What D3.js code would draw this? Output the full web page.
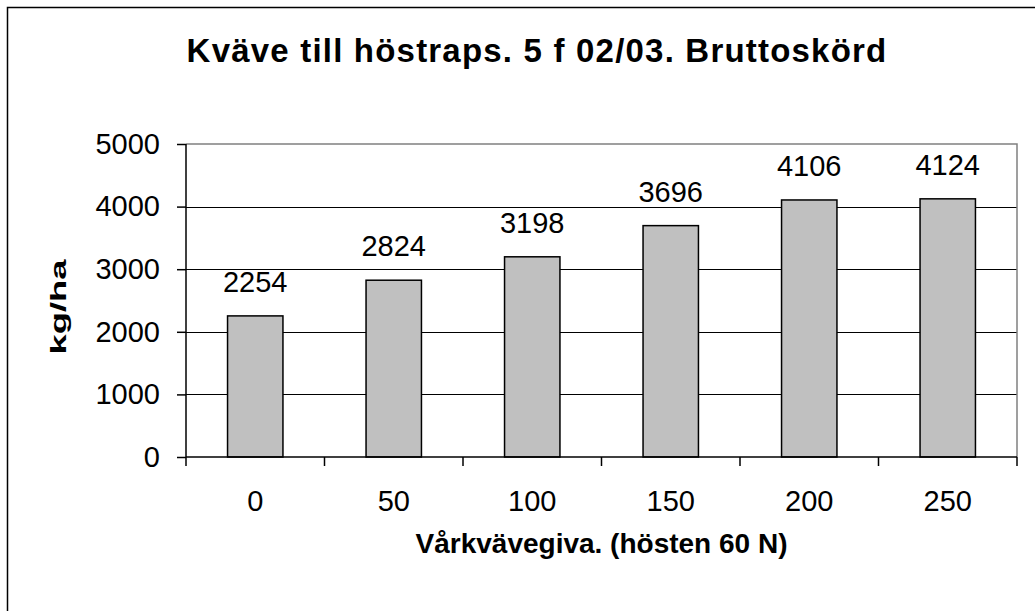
<!DOCTYPE html>
<html>
<head>
<meta charset="utf-8">
<script src="https://cdn.jsdelivr.net/npm/d3@7"></script>
<style>
  body { margin: 0; background: #fff; }
  svg { display: block; font-family: "Liberation Sans", Arial, sans-serif; }
</style>
</head>
<body>
<div id="chart"></div>
<script>
  // Data
  var categories = ['0', '50', '100', '150', '200', '250'];
  var values = [2254, 2824, 3198, 3696, 4106, 4124];
  var yTicks = [0, 1000, 2000, 3000, 4000, 5000];

  var data = categories.map(function(c, i) {
      return { cat: c, value: values[i] };
  });

  // Size and margins
  var W = 1035, H = 611;
  var margin = { top: 144, right: 18, bottom: 154, left: 186 };
  var width = W - margin.left - margin.right;
  var height = H - margin.top - margin.bottom;

  var root = d3.select('#chart')
      .append('svg')
      .attr('width', W)
      .attr('height', H);

  // Outer chart border (runs off the right and bottom edge)
  root.append('rect')
      .attr('x', 7.5)
      .attr('y', 7.5)
      .attr('width', W + 20)
      .attr('height', H + 20)
      .attr('fill', 'none')
      .attr('stroke', '#000')
      .attr('stroke-width', 1.5);

  // Title
  root.append('text')
      .attr('x', 537)
      .attr('y', 62)
      .attr('text-anchor', 'middle')
      .attr('font-size', 33)
      .attr('font-weight', 'bold')
      .attr('letter-spacing', '1.2px')
      .text('Kväve till höstraps. 5 f 02/03. Bruttoskörd');

  var svg = root.append('g')
      .attr('transform', 'translate(' + margin.left + ',' + margin.top + ')');

  // Scales
  var x = d3.scaleBand()
      .range([0, width])
      .paddingInner(0.6)
      .paddingOuter(0.3)
      .domain(categories);

  var y = d3.scaleLinear()
      .range([height, 0])
      .domain([0, 5000]);

  // Gridlines
  svg.selectAll('.grid')
      .data(yTicks.slice(1, -1))
      .enter().append('line')
      .attr('class', 'grid')
      .attr('x1', 0)
      .attr('x2', width)
      .attr('y1', function(d) { return Math.round(y(d)) + 0.5; })
      .attr('y2', function(d) { return Math.round(y(d)) + 0.5; })
      .attr('stroke', '#000')
      .attr('stroke-width', 1);

  // Plot frame top / right (gray)
  svg.append('path')
      .attr('d', 'M0,' + y(5000) + 'H' + width + 'V' + y(0))
      .attr('fill', 'none')
      .attr('stroke', '#808080')
      .attr('stroke-width', 1.5);

  // Bars
  svg.selectAll('.bar')
      .data(data)
      .enter().append('rect')
      .attr('class', 'bar')
      .attr('x', function(d) { return x(d.cat); })
      .attr('y', function(d) { return y(d.value); })
      .attr('width', x.bandwidth())
      .attr('height', function(d) { return height - y(d.value); })
      .attr('fill', '#c0c0c0')
      .attr('stroke', '#000')
      .attr('stroke-width', 1.5);

  // Value labels
  svg.selectAll('.val')
      .data(data)
      .enter().append('text')
      .attr('class', 'val')
      .attr('x', function(d) { return x(d.cat) + x.bandwidth() / 2; })
      .attr('y', function(d) { return y(d.value) - 24; })
      .attr('text-anchor', 'middle')
      .attr('font-size', 29)
      .text(function(d) { return d.value; });

  // Y axis
  var yAxis = svg.append('g')
      .call(d3.axisLeft(y).tickValues(yTicks).tickFormat(d3.format('d')).tickSize(9).tickPadding(17));
  yAxis.selectAll('text')
      .attr('font-size', 29)
      .attr('fill', '#000')
      .attr('font-family', '"Liberation Sans", Arial, sans-serif');
  yAxis.selectAll('line').attr('stroke-width', 1.5);
  yAxis.select('.domain').attr('stroke-width', 1.5).attr('d', 'M0,' + y(5000) + 'V' + y(0));

  // X axis (labels at band centres, ticks at band edges)
  var xAxis = svg.append('g')
      .attr('transform', 'translate(0,' + height + ')')
      .call(d3.axisBottom(x).tickSize(0).tickPadding(33));
  xAxis.selectAll('text')
      .attr('font-size', 29)
      .attr('fill', '#000')
      .attr('font-family', '"Liberation Sans", Arial, sans-serif');
  xAxis.select('.domain').attr('stroke-width', 1.5).attr('d', 'M0,0H' + width);

  var edges = categories.map(function(c) { return x(c) - x.step() * x.paddingInner() / 2; });
  edges.push(width);
  xAxis.selectAll('.edge')
      .data(edges)
      .enter().append('line')
      .attr('class', 'edge')
      .attr('x1', function(d) { return d; })
      .attr('x2', function(d) { return d; })
      .attr('y1', 0)
      .attr('y2', 9)
      .attr('stroke', '#000')
      .attr('stroke-width', 1.5);

  // Axis titles
  root.append('text')
      .attr('x', margin.left + width / 2)
      .attr('y', 553)
      .attr('text-anchor', 'middle')
      .attr('font-size', 28)
      .attr('font-weight', 'bold')
      .text('Vårkvävegiva. (hösten 60 N)');

  root.append('text')
      .attr('transform', 'translate(66,307) rotate(-90)')
      .attr('text-anchor', 'middle')
      .attr('font-size', 22)
      .attr('font-weight', 'bold')
      .attr('textLength', 95)
      .attr('lengthAdjust', 'spacingAndGlyphs')
      .text('kg/ha');
</script>
</body>
</html>
